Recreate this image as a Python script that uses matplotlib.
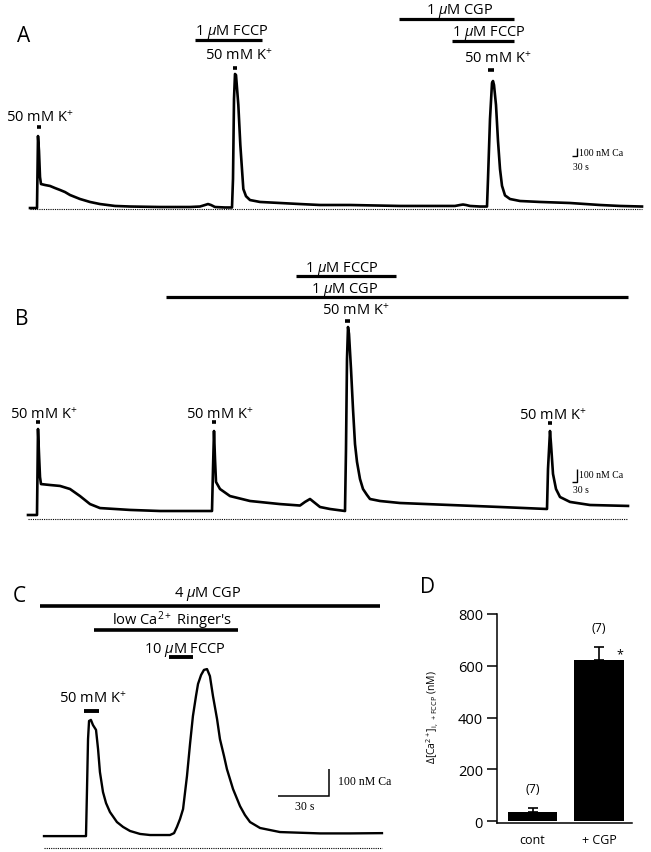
import numpy as np
import matplotlib
matplotlib.use('Agg')
import matplotlib.pyplot as plt
from matplotlib.transforms import blended_transform_factory

# ---- data (time in s, [Ca2+] in nM above the dotted line) ----
# panel A
a_t = [0, 42, 48, 54, 60, 66, 90, 120, 150, 180, 210, 240, 270, 300, 360, 420, 510, 600,
       780, 960, 1020, 1050, 1068, 1086, 1110, 1170, 1212, 1218, 1224, 1230, 1236, 1250,
       1262, 1280, 1296, 1320, 1380, 1500, 1620, 1740, 1920, 2220, 2460, 2550, 2580, 2598,
       2616, 2640, 2700, 2742, 2748, 2760, 2772, 2778, 2784, 2796, 2808, 2820, 2832, 2850,
       2880, 2940, 3060, 3240, 3420, 3540, 3672]
a_ca = [12, 12, 912, 725, 400, 312, 300, 288, 262, 238, 212, 175, 150, 125, 88, 62, 38, 31,
        25, 25, 31, 50, 62, 50, 25, 19, 19, 375, 1375, 1688, 1675, 1300,
        800, 250, 160, 112, 88, 75, 62, 50, 50, 38, 38, 38, 50, 56,
        50, 38, 31, 31, 375, 1125, 1575, 1600, 1550, 1300, 850, 500, 290, 170,
        125, 100, 88, 75, 50, 38, 31]
a_kplus = [(42, 66), (1218, 1242), (2748, 2784)]
a_fccp = [(990, 1392), (2532, 2904)]
a_cgp = [(2214, 2904)]

# panel B
b_t = [0, 54, 60, 66, 72, 78, 132, 192, 252, 312, 372, 432, 612, 792, 1032, 1104, 1110,
       1116, 1122, 1128, 1152, 1212, 1332, 1512, 1632, 1662, 1692, 1722, 1752, 1812, 1902,
       1908, 1914, 1920, 1926, 1938, 1950, 1962, 1974, 1992, 2010, 2034, 2052, 2112, 2232,
       2532, 2832, 3114, 3120, 3132, 3138, 3150, 3168, 3192, 3252, 3372, 3600]
b_ca = [30, 30, 675, 488, 315, 262, 255, 248, 225, 172, 112, 82, 68, 60, 60, 60, 375,
        660, 450, 278, 225, 172, 135, 112, 101, 128, 150, 120, 90, 75, 60,
        525, 1200, 1440, 1388, 1125, 825, 562, 428, 300, 225, 180, 150, 135, 120,
        105, 90, 75, 375, 660, 562, 338, 225, 165, 128, 105, 98]
b_kplus = [(48, 72), (1104, 1128), (1902, 1932), (3120, 3144)]
b_fccp = [(1608, 2208)]
b_cgp = [(828, 3600)]

# panel C
c_t = [0, 24.7, 25.3, 25.9, 26.5, 27.6, 28.8, 30.6, 31.8, 32.9, 34.7, 36.5, 38.8, 42.9,
       46.5, 50.6, 56.5, 62.4, 74.1, 76.5, 78.2, 80.0, 81.8, 84.1, 85.9, 87.6, 89.4, 90.6,
       92.4, 94.1, 95.9, 97.6, 99.4, 101.8, 103.5, 105.9, 107.6, 111.2, 115.3, 118.2,
       121.2, 127.1, 138.8, 162.4, 180.0, 198.8]
c_ca = [44, 44, 218, 403, 470, 474, 455, 437, 366, 281, 207, 166, 133, 96,
        78, 63, 52, 48, 48, 55, 78, 107, 144, 266, 385, 488, 562, 607,
        640, 659, 662, 636, 562, 477, 403, 340, 292, 218, 155, 122,
        96, 74, 59, 54, 54, 55]
c_cgp = [(-2.4, 197.6)]
c_lowca = [(29.4, 114.1)]
c_fccp = [(73.5, 87.6)]
c_kplus = [(23.5, 32.4)]

# panel D
d_groups = ['cont', '+ CGP']
d_mean = [35, 622]
d_sem = [15, 50]
d_n = [7, 7]

plt.rcParams['font.family'] = ['Open Sans', 'DejaVu Sans']
plt.rcParams['mathtext.fontset'] = 'custom'
plt.rcParams['mathtext.rm'] = 'Open Sans'
plt.rcParams['mathtext.it'] = 'Open Sans:italic'
plt.rcParams['mathtext.bf'] = 'Open Sans:bold'
plt.rcParams['mathtext.sf'] = 'Open Sans'

W, H = 651, 853
fig = plt.figure(figsize=(W / 100, H / 100), dpi=100)

KP = r'50 mM K$^{+}$'
SERIF = 'Liberation Serif'


def trace_ax(box, x0, y0, sx, sy):
    # box in pixels (left, top, right, bottom); x0,y0 = pixel of t=0 / Ca=0; sx,sy = px per unit
    left, top, right, bottom = box
    ax = fig.add_axes([left / W, 1 - bottom / H, (right - left) / W, (bottom - top) / H])
    ax.set_xlim((left - x0) / sx, (right - x0) / sx)
    ax.set_ylim((y0 - bottom) / sy, (y0 - top) / sy)
    ax.axis('off')
    return ax


def txt(x, y, s, size=10.5, ha='center', va='baseline', **kw):
    fig.text(x / W, 1 - y / H, s, ha=ha, va=va, fontsize=size, **kw)


def stim(ax, spans, ys, lw=2.3):
    tr = blended_transform_factory(ax.transData, fig.transFigure)
    for (on, off), y in zip(spans, ys):
        ax.plot([on, off], [1 - y / H] * 2, transform=tr, color='k', lw=lw,
                solid_capstyle='butt', clip_on=False)


def scalebar(ax, x, y, dt, dc, lw=1.0):
    t, c = ax.transData.inverted().transform((x, H - y))
    ax.plot([t - dt, t, t], [c, c, c + dc], color='k', lw=lw,
            solid_joinstyle='miter', solid_capstyle='butt')


def trace(ax, t, ca, lw=1.9):
    ax.plot(t, ca, color='k', lw=lw, solid_joinstyle='round')
    ax.plot([t[0], t[-1]], [0, 0], color='k', lw=0.8, linestyle=(0, (1, 1)))


# ---------------- A ----------------
axA = trace_ax((20, 0, 650, 225), 30, 210, 1 / 6, 0.08)
trace(axA, a_t, a_ca)
stim(axA, a_kplus, [128, 69, 71], lw=2.6)
stim(axA, a_fccp, [41, 42.3])
stim(axA, a_cgp, [20])
scalebar(axA, 577, 157, 30, 100)
txt(24, 41.7, 'A', size=15, ha='center')
txt(39.5, 121.5, KP)
txt(231.5, 35, r'1 $\mu$M FCCP')
txt(238.5, 60.5, KP)
txt(460, 13.5, r'1 $\mu$M CGP')
txt(488.5, 36.5, r'1 $\mu$M FCCP')
txt(497.5, 63, KP)
txt(579, 156.5, '100 nM Ca', size=7, ha='left', family=SERIF)
txt(573, 169.5, '30 s', size=7, ha='left', family=SERIF)

# ---------------- B ----------------
axB = trace_ax((20, 250, 650, 530), 28, 520, 1 / 6, 1 / 7.5)
trace(axB, b_t, b_ca)
stim(axB, b_kplus, [423.3, 423.3, 321.7, 424.3], lw=2.6)
stim(axB, b_fccp, [276.7])
stim(axB, b_cgp, [297.5])
scalebar(axB, 577, 483, 30, 100)
txt(22, 325, 'B', size=15)
txt(44, 419, KP)
txt(220, 419, KP)
txt(341.5, 271.7, r'1 $\mu$M FCCP')
txt(344.5, 293, r'1 $\mu$M CGP')
txt(355.5, 315, KP)
txt(552.5, 420, KP)
txt(579, 478, '100 nM Ca', size=7, ha='left', family=SERIF)
txt(573, 493, '30 s', size=7, ha='left', family=SERIF)

# ---------------- C ----------------
axC = trace_ax((20, 575, 420, 853), 44, 849, 1.7, 1 / 3.7)
trace(axC, c_t, c_ca, lw=1.7)
stim(axC, c_cgp, [607.3], lw=2.6)
stim(axC, c_lowca, [631], lw=2.6)
stim(axC, c_fccp, [658.3], lw=2.8)
stim(axC, c_kplus, [711.7], lw=2.8)
scalebar(axC, 329, 797, 30, 100, lw=1.1)
txt(19, 601.7, 'C', size=15)
txt(207.5, 596.7, r'4 $\mu$M CGP')
txt(172, 625, "low Ca$^{2+}$ Ringer's")
txt(185, 652.7, r'10 $\mu$M FCCP')
txt(92.5, 703.3, KP)
txt(338, 785, '100 nM Ca', size=8.5, ha='left', family=SERIF)
txt(305, 810, '30 s', size=8.5, ha='center', family=SERIF)

# ---------------- D ----------------
left, top, right, bottom = 497, 615, 632, 824
axD = fig.add_axes([left / W, 1 - bottom / H, (right - left) / W, (bottom - top) / H])
x = np.arange(len(d_groups))
axD.bar(x, d_mean, width=0.744, color='k')
axD.errorbar(x, d_mean, yerr=[np.zeros(len(d_sem)), d_sem], fmt='none', ecolor='k',
             elinewidth=1.2, capsize=3.5, capthick=1.2)
for xi, m, s, n in zip(x, d_mean, d_sem, d_n):
    axD.text(xi, m + s + 75, f'({n})', ha='center', va='center', fontsize=9)
axD.text(1.31, d_mean[1] + 25, '*', ha='center', va='center', fontsize=9)
axD.set_xlim(-0.534, 1.496)
axD.set_ylim(-7.7, 800)
axD.set_yticks([0, 200, 400, 600, 800])
axD.set_xticks(x)
axD.set_xticklabels(d_groups, fontsize=9)
axD.tick_params(axis='y', labelsize=10.5, length=7, width=1.1, pad=3)
axD.tick_params(axis='x', length=0, pad=7)
for side in ['top', 'right']:
    axD.spines[side].set_visible(False)
for side in ['left', 'bottom']:
    axD.spines[side].set_linewidth(1.1)
txt(427.5, 593, 'D', size=15)
txt(433, 717, r'$\Delta$[Ca$^{2+}$]$_{\mathrm{i,\ +FCCP}}$ (nM)', size=7.5,
    va='center', rotation=90)

fig.savefig('out.png', dpi=100)
